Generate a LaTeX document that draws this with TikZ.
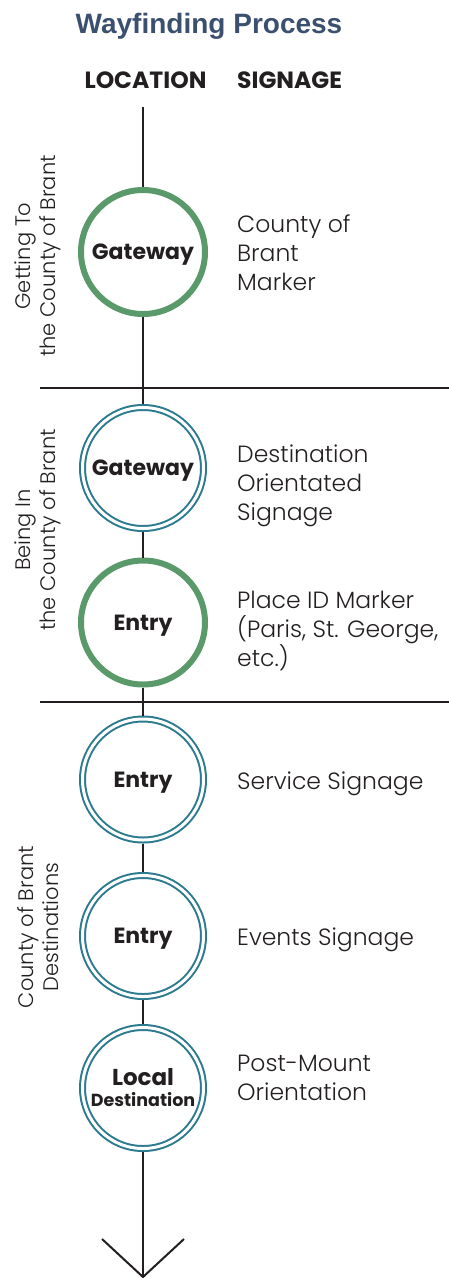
\documentclass[tikz,border=0pt]{standalone}
\usepackage{fontspec}
\setmainfont{Poppins}
\newfontfamily\lightfont{Poppins Light}
\newfontfamily\titlefont{Liberation Sans}
\definecolor{ink}{HTML}{231F20}
\definecolor{gatewaygreen}{HTML}{5A9A6A}
\definecolor{tealring}{HTML}{2B7A8E}
\definecolor{titleblue}{HTML}{3B506E}
\begin{document}
\begin{tikzpicture}[x=1pt,y=-1pt,
  conn/.style={draw=ink,line width=2pt},
  sep/.style={draw=ink,line width=2pt},
  greenring/.style={circle,draw=gatewaygreen,line width=6pt,minimum size=124pt,inner sep=0pt,outer sep=3pt,text=ink,font=\fontsize{22}{24}\selectfont\bfseries,align=center},
  tealringnode/.style={circle,draw=tealring,line width=2pt,double=white,double distance=3pt,minimum size=121pt,inner sep=0pt,outer sep=3.5pt,text=ink,font=\fontsize{22}{24}\selectfont\bfseries,align=center},
  oneline/.style={text depth=0pt},
  signtext/.style={anchor=base west,inner sep=0pt,text=ink,align=left,font=\lightfont\fontsize{23.5}{29}\selectfont},
  sidetext/.style={rotate=90,inner sep=0pt,text=ink,align=center,font=\lightfont\fontsize{21}{25}\selectfont},
  header/.style={anchor=base,inner sep=0pt,text=ink,font=\fontsize{23.5}{26}\selectfont\bfseries},
  titletext/.style={anchor=base,inner sep=0pt,text=titleblue,font=\titlefont\fontsize{28}{32}\selectfont\bfseries}
]
\useasboundingbox (0,0) rectangle (449,1278);

\node[titletext] (title) at (209,33) {Wayfinding Process};
\node[header] (loc) at (145.5,88) {LOCATION};
\node[header,anchor=base west] (sig) at (237,88) {SIGNAGE};

% section separators
\coordinate (s1l) at (40,388); \coordinate (s1r) at (449,388);
\coordinate (s2l) at (40,702); \coordinate (s2r) at (449,702);
\draw[sep] (s1l) -- (s1r);
\draw[sep] (s2l) -- (s2r);

% location circles
\node[greenring,oneline] (gw1) at (143,252) {Gateway};
\node[tealringnode,oneline] (gw2) at (143,468) {Gateway};
\node[greenring,oneline] (en1) at (143,622.5) {Entry};
\node[tealringnode,oneline] (en2) at (143,779.5) {Entry};
\node[tealringnode,oneline] (en3) at (143,936) {Entry};
\node[tealringnode] (ld) at (143,1088) {{\fontsize{23}{24}\selectfont Local}\\[-3pt]{\fontsize{17.5}{19}\selectfont Destination}};

% connectors
\coordinate (top) at (143,107);
\coordinate (tip) at (143,1277);
\coordinate (barbl) at (102,1239);
\coordinate (barbr) at (184,1239);
\draw[conn] (top) -- (gw1);
\draw[conn] (gw1) -- (gw2);
\draw[conn] (gw2) -- (en1);
\draw[conn] (en1) -- (en2);
\draw[conn] (en2) -- (en3);
\draw[conn] (en3) -- (ld);
\draw[conn] (ld) -- (tip);
\draw[conn] (barbl) -- (tip) -- (barbr);

% signage texts (anchor = baseline of last line)
\node[signtext] (t1) at (237,290) {County of\\Brant\\Marker};
\node[signtext] (t2) at (237,520) {Destination\\Orientated\\Signage};
\node[signtext] (t3) at (237,666) {Place ID Marker\\(Paris, St. George,\\etc.)};
\node[signtext] (t4) at (237,789) {Service Signage};
\node[signtext] (t5) at (237,945) {Events Signage};
\node[signtext] (t6) at (237,1100) {Post-Mount\\Orientation};

% side labels
\node[sidetext] (side1) at (38,256) {Getting To\\the County of Brant};
\node[sidetext] (side2) at (38,530) {Being In\\the County of Brant};
\node[sidetext] (side3) at (38,927) {County of Brant\\Destinations};
\end{tikzpicture}
\end{document}
